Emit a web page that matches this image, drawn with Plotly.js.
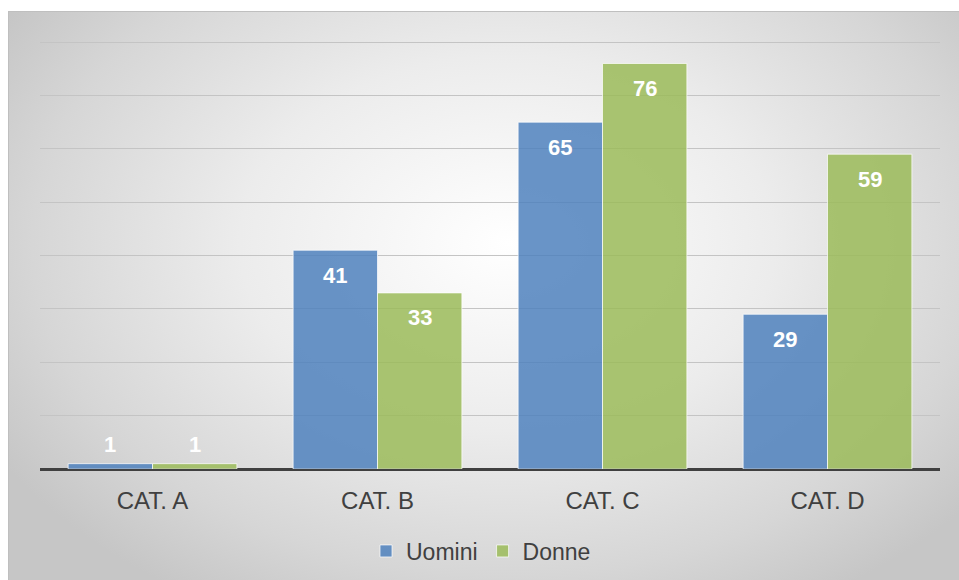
<!DOCTYPE html>
<html>
<head>
<meta charset="utf-8">
<script src="https://cdn.plot.ly/plotly-3.0.1.min.js"></script>
<style>
  html, body { margin: 0; padding: 0; background: #ffffff; }
  #wrap { position: relative; width: 959px; height: 580px; overflow: hidden; }
  #bg { position: absolute; left: 8px; top: 11px; width: 960px; height: 580px;
        border: 1px solid #bfbfbf; box-sizing: border-box;
        background: radial-gradient(ellipse 62% 72% at 52% 40%, #ffffff 0%, #ececec 45%, #d6d6d6 80%, #c6c6c6 100%); }
  #chart { position: absolute; left: 0; top: 0; width: 959px; height: 580px; }
</style>
</head>
<body>
<div id="wrap">
  <div id="bg"></div>
  <div id="chart"></div>
</div>
<script>
const categories = ["CAT. A", "CAT. B", "CAT. C", "CAT. D"];
const uomini = [1, 41, 65, 29];
const donne = [1, 33, 76, 59];
const seriesNames = ["Uomini", "Donne"];

const blue = "rgba(79,129,189,0.85)";
const green = "rgba(155,187,89,0.85)";

const traces = [
  { type: "bar", name: seriesNames[0], x: categories, y: uomini,
    marker: { color: blue, line: { color: "rgba(255,255,255,0.7)", width: 1 } }, hoverinfo: "skip" },
  { type: "bar", name: seriesNames[1], x: categories, y: donne,
    marker: { color: green, line: { color: "rgba(255,255,255,0.7)", width: 1 } }, hoverinfo: "skip" }
];

const annotations = [];
[uomini, donne].forEach(function (vals, s) {
  const off = s === 0 ? -0.1875 : 0.1875;
  vals.forEach(function (v, i) {
    const small = v < 5;
    annotations.push({
      x: i + off, y: v, xref: "x", yref: "y",
      text: String(v), showarrow: false,
      yanchor: small ? "bottom" : "middle",
      yshift: small ? 5 : -25,
      font: { family: "Liberation Sans, Arial, sans-serif", size: 22, color: "#ffffff", weight: "bold" }
    });
  });
});

const layout = {
  width: 959, height: 580,
  margin: { l: 40, r: 19, t: 40, b: 111, autoexpand: false },
  paper_bgcolor: "rgba(0,0,0,0)",
  plot_bgcolor: "rgba(0,0,0,0)",
  barmode: "group",
  bargap: 0.25,
  bargroupgap: 0,
  font: { family: "Liberation Sans, Arial, sans-serif", color: "#404040" },
  xaxis: {
    type: "category", automargin: false,
    showgrid: false, zeroline: false, showline: false,
    ticks: "", tickfont: { size: 24, color: "#404040" },
    ticklabelstandoff: 15
  },
  yaxis: {
    range: [0, 80.4], tickvals: [10, 20, 30, 40, 50, 60, 70, 80], showticklabels: false,
    automargin: false,
    showgrid: true, gridcolor: "#c4c4c4", gridwidth: 1,
    zeroline: true, zerolinecolor: "#404040", zerolinewidth: 3,
    showline: false, ticks: ""
  },
  showlegend: true,
  legend: {
    orientation: "h", x: 0.49, xanchor: "center",
    yref: "container", y: 0.05, yanchor: "middle",
    font: { size: 23, color: "#404040" }, bgcolor: "rgba(0,0,0,0)",
    itemwidth: 30
  },
  annotations: annotations
};

Plotly.newPlot("chart", traces, layout, { displayModeBar: false, staticPlot: true });
</script>
</body>
</html>
